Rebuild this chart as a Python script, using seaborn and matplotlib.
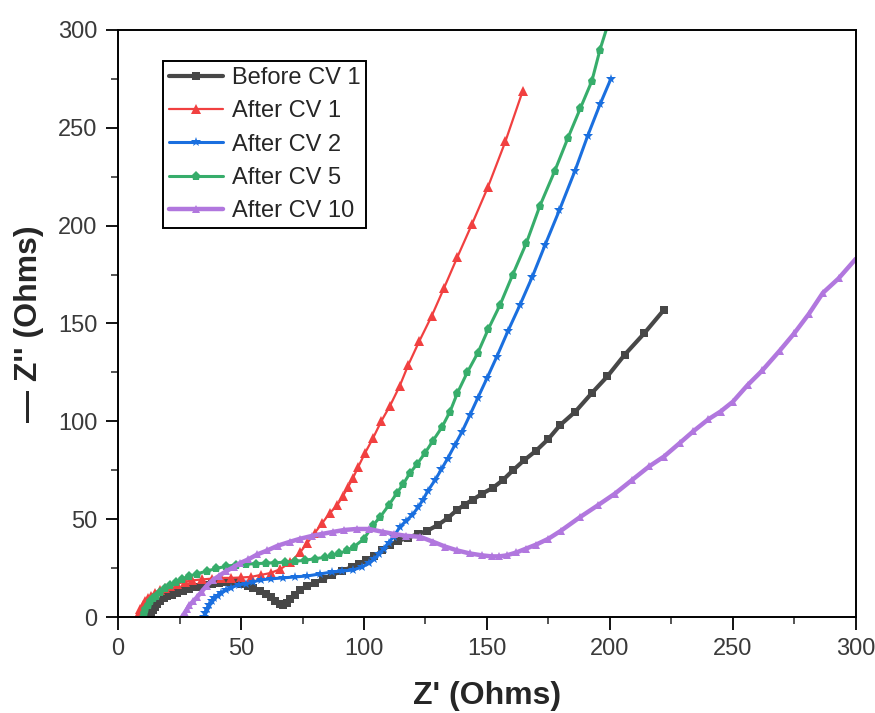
import numpy as np
import pandas as pd
import matplotlib
matplotlib.use("Agg")
import matplotlib.pyplot as plt
import seaborn as sns
from matplotlib.ticker import MultipleLocator

# Nyquist data (Z' , -Z'')
before1_x = [13, 13.5, 14, 15, 16, 17, 18.5, 20, 22, 24, 26.5, 29, 32, 35, 38, 41, 44, 47, 50, 53, 55, 57.5, 60, 62, 64, 66, 67,
             68.5, 70, 72, 74, 77, 80, 83.5, 87, 91, 95, 98, 101, 104, 107.5, 110.6, 114, 118, 122, 125.6, 130, 134, 137.8,
             141, 144.3, 148, 152.4, 156.5, 160.6, 165, 170, 175, 179.7, 186, 192.7, 199, 206, 214, 222]
before1_y = [0, 2, 3.5, 5, 6.5, 8, 9.5, 10.5, 11.5, 12.5, 13.5, 14.5, 15.5, 16.3, 17, 17.5, 17.8, 17.8, 17, 16, 15, 13.5, 12, 10,
             8, 6.5, 6, 7, 9, 11.5, 14, 16, 17.5, 19.5, 21.5, 23.5, 25.5, 27, 29, 31, 34, 37, 39, 40.5, 42.5, 44, 47, 50.5, 54.7,
             57.5, 60, 63, 66, 70, 75, 80, 85, 91, 98, 105, 114.5, 123, 134, 145, 157]

after1_x = [8, 8.5, 9, 10, 11, 12, 13.5, 15, 17, 19, 21, 24, 27, 30, 34, 38, 42, 46, 50, 54, 58, 62, 66, 70, 74, 77, 80, 83, 86,
            89, 91.5, 93.5, 95.5, 97.6, 100.5, 103.7, 107, 110.6, 114.5, 118, 122.5, 127.6, 132.5, 138, 144, 150.4, 157.5, 164.6]
after1_y = [0, 2, 4, 6, 8, 9.5, 11, 12.5, 14, 15, 16, 17, 18, 18.7, 19.2, 19.6, 20, 20, 20.2, 20.5, 21.5, 22.5, 24.5, 28, 33, 38,
            43, 48, 53, 57, 62, 66.4, 71, 76.6, 84, 91.5, 100, 108, 118, 128.8, 141, 154, 168, 184, 201, 219.7, 243, 269]

after2_x = [35, 35.5, 36, 37, 38, 39, 40.5, 42, 44, 46, 49, 52, 55, 58, 62, 67, 72, 77, 82, 87, 91, 95.5, 99, 102, 104, 106, 108,
            110, 112, 114.6, 117, 119.5, 122, 124, 126, 128.9, 131.5, 134, 137, 139.8, 143, 146.3, 150, 154, 158.5, 163.4,
            168.5, 173.6, 179.5, 185.8, 191, 196, 200.4]
after2_y = [0, 2, 4, 6, 8, 9.5, 11, 12.5, 14, 15, 16.5, 17, 18, 19, 19.5, 20, 20.5, 21, 22, 23, 23.5, 24, 25.5, 27.5, 29.5, 32, 35,
            38, 41, 46, 49, 52, 56, 60, 64.5, 70, 75.5, 81, 88, 94.5, 103, 112, 122, 133, 146, 159.4, 174, 190, 208, 228, 246,
            262, 275]

after5_x = [10, 10.5, 11, 12, 13, 14, 15.5, 17, 19, 21, 23.5, 26, 29, 32, 36, 40, 44, 48, 52, 56, 60, 64, 68, 72, 76, 80, 84, 87,
            90, 93, 96, 100, 103.7, 106.5, 110, 113.4, 116, 118.7, 121.5, 124.8, 128, 131.7, 135, 138, 142, 146.3, 150.5,
            155.3, 160.5, 166, 171.5, 177.6, 183, 188, 192.7, 196, 200]
after5_y = [0, 2, 4, 6, 8, 9.5, 11, 13, 15, 16.5, 18, 19.5, 21, 22, 23.5, 24.8, 26, 26.6, 27, 27.3, 27.5, 27.8, 28, 28.5, 29, 29.8,
            30.5, 31.5, 32.5, 34, 36, 40, 47, 51, 57, 63.4, 68, 73.6, 78, 83.8, 90, 97, 105, 114.5, 125, 135, 147, 159.4, 175,
            191, 210, 228, 245, 260, 274, 290, 306]

after10_x = [26, 27, 28, 29, 30.5, 32, 34, 36, 38.6, 41, 44, 47, 49.6, 53, 56.6, 60.6, 65, 70, 74, 79, 83, 87.4, 92, 97, 102,
             107.7, 112, 117, 122.8, 128, 133, 138, 143, 148, 152, 155, 158, 162, 166, 170, 175, 180, 187.8, 195, 202, 209,
             216, 222, 228.5, 234, 240, 245, 250, 256, 262, 269, 275, 281, 286.6, 293, 300]
after10_y = [0, 2, 4, 6, 8, 10, 13, 16, 19, 21, 23.5, 25.5, 27.6, 29.5, 32, 34, 36.5, 38.5, 40, 41.5, 42.5, 43.5, 44.5, 45, 45,
             43.5, 42.5, 41.5, 41, 38.5, 36, 34, 32.5, 31.5, 31, 31, 31.5, 33, 35, 37, 40, 44, 51, 57, 63, 70, 77, 82, 89, 95,
             101, 105, 110, 118.5, 126, 136, 145, 155, 165.6, 173, 183]

labels = ["Before CV 1", "After CV 1", "After CV 2", "After CV 5", "After CV 10"]
colors = ["#474747", "#F14040", "#1A6FDF", "#37AD6B", "#B177DE"]
markers = ["s", "^", "*", "p", "^"]
widths = [3.0, 1.6, 2.2, 2.2, 3.2]
msizes = [6, 6.5, 7.5, 6.5, 6]
series = [(before1_x, before1_y), (after1_x, after1_y), (after2_x, after2_y),
          (after5_x, after5_y), (after10_x, after10_y)]

sns.set_style("ticks")
plt.rcParams['font.family'] = ['Liberation Sans', 'DejaVu Sans']

fig = plt.figure(figsize=(8.75, 7.13), dpi=100)
ax = fig.add_axes([0.135, 0.1346, 0.843, 0.8234])

for (xs, ys), lab, c, m, lw, ms in zip(series, labels, colors, markers, widths, msizes):
    df = pd.DataFrame({"x": xs, "y": ys})
    sns.lineplot(data=df, x="x", y="y", ax=ax, sort=False, estimator=None, color=c, linewidth=lw,
                 marker=m, markersize=ms, markeredgewidth=0, label=lab)

ax.set_xlim(0, 300)
ax.set_ylim(0, 300)
ax.xaxis.set_major_locator(MultipleLocator(50))
ax.yaxis.set_major_locator(MultipleLocator(50))
ax.xaxis.set_minor_locator(MultipleLocator(25))
ax.yaxis.set_minor_locator(MultipleLocator(25))
ax.tick_params(which="major", direction="out", length=9, width=1.3, labelsize=17, colors="black", pad=6)
ax.tick_params(which="minor", direction="out", length=5, width=1.1)
ax.tick_params(axis="both", labelcolor="#3a3a3a")
for sp in ax.spines.values():
    sp.set_visible(True)
    sp.set_linewidth(1.4)
    sp.set_color("black")

ax.set_xlabel("Z' (Ohms)", fontsize=23, fontweight="bold", labelpad=15)
ax.set_ylabel("\u2014 Z'' (Ohms)", fontsize=23, fontweight="bold", labelpad=10)

leg = ax.legend(loc="upper left", bbox_to_anchor=(0.061, 0.947), borderaxespad=0, fontsize=17,
                frameon=True, fancybox=False, edgecolor="black", framealpha=1, handlelength=2.3,
                handletextpad=0.35, labelspacing=0.48, borderpad=0.25)
leg.get_frame().set_linewidth(1.4)

fig.savefig("out.png", dpi=100)
